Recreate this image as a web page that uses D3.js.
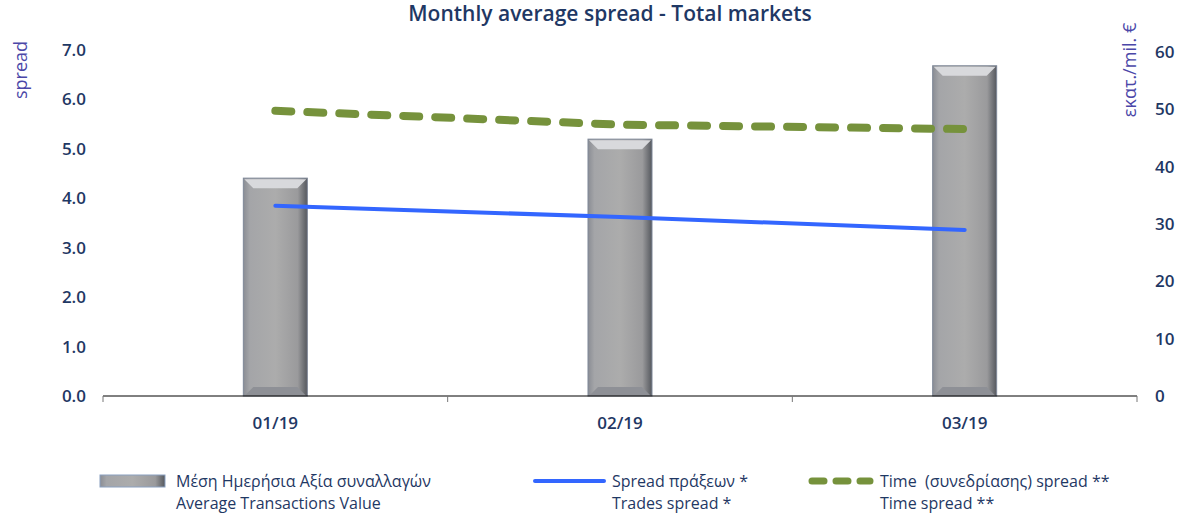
<!DOCTYPE html>
<html>
<head>
<meta charset="utf-8">
<script src="https://cdn.jsdelivr.net/npm/d3@7"></script>
<style>
  body { margin: 0; background: #fff; }
  text { font-family: "Open Sans", "Noto Sans", sans-serif; }
</style>
</head>
<body>
<div id="viz"></div>
<script>
const months = ["01/19", "02/19", "03/19"];
const avgValue = [38.0, 44.8, 57.6];       // right axis, εκατ. €
const tradesSpread = [3.85, 3.62, 3.36];  // left axis
const timeSpread = [5.77, 5.49, 5.40];    // left axis
const leftTicks = [0, 1, 2, 3, 4, 5, 6, 7];
const rightTicks = [0, 10, 20, 30, 40, 50, 60];

const width = 1181;
const height = 514;
const navy = "#1f3864";

const svg = d3.select("#viz").append("svg")
    .attr("width", width)
    .attr("height", height);

const x = d3.scaleBand().domain(months).range([103, 1137]);
const yLeft = d3.scaleLinear().domain([0, 7]).range([396, 50]);
const yRight = d3.scaleLinear().domain([0, 60]).range([396, 52]);

// bar gradient
const defs = svg.append("defs");
const grad = defs.append("linearGradient").attr("id", "barGrad");
grad.append("stop").attr("offset", "0%").attr("stop-color", "#8a8d94");
grad.append("stop").attr("offset", "10%").attr("stop-color", "#a4a5a8");
grad.append("stop").attr("offset", "50%").attr("stop-color", "#acacac");
grad.append("stop").attr("offset", "85%").attr("stop-color", "#9a9a9c");
grad.append("stop").attr("offset", "100%").attr("stop-color", "#55585e");

// title
svg.append("text")
    .attr("x", 610).attr("y", 21)
    .attr("text-anchor", "middle")
    .attr("font-size", "21px")
    .attr("font-weight", 600)
    .attr("fill", navy)
    .text("Monthly average spread - Total markets");

// bars
const barW = 64;
const bars = svg.selectAll("g.bar")
    .data(months.map((m, i) => ({ m, v: avgValue[i] })))
    .enter().append("g").attr("class", "bar");

bars.append("rect")
    .attr("x", d => x(d.m) + x.bandwidth() / 2 - barW / 2)
    .attr("y", d => yRight(d.v))
    .attr("width", barW)
    .attr("height", d => yRight(0) - yRight(d.v))
    .attr("fill", "url(#barGrad)")
    .attr("stroke", "#7f8898")
    .attr("stroke-width", 1);

// top bevel
bars.append("path")
    .attr("d", d => {
        const x0 = x(d.m) + x.bandwidth() / 2 - barW / 2;
        const y0 = yRight(d.v);
        return `M${x0 + 1},${y0 + 1} L${x0 + barW - 1},${y0 + 1} L${x0 + barW - 10},${y0 + 10} L${x0 + 10},${y0 + 10} Z`;
    })
    .attr("fill", "#d8d9dc");

// bottom bevel
bars.append("path")
    .attr("d", d => {
        const x0 = x(d.m) + x.bandwidth() / 2 - barW / 2;
        const y0 = yRight(0);
        return `M${x0 + 1},${y0} L${x0 + barW - 1},${y0} L${x0 + barW - 10},${y0 - 9} L${x0 + 10},${y0 - 9} Z`;
    })
    .attr("fill", "#8e9096");

// x axis
const xAxis = svg.append("g");
xAxis.append("line")
    .attr("x1", 103).attr("x2", 1137)
    .attr("y1", yLeft(0)).attr("y2", yLeft(0))
    .attr("stroke", "#000").attr("stroke-width", 1);
xAxis.selectAll("line.tick")
    .data([103, ...months.map(m => x(m) + x.bandwidth()).slice(0, 2), 1137])
    .enter().append("line")
    .attr("class", "tick")
    .attr("x1", d => d).attr("x2", d => d)
    .attr("y1", yLeft(0)).attr("y2", yLeft(0) + 6)
    .attr("stroke", "#777");
xAxis.selectAll("text")
    .data(months)
    .enter().append("text")
    .attr("x", d => x(d) + x.bandwidth() / 2)
    .attr("y", 429)
    .attr("text-anchor", "middle")
    .attr("font-size", "17px")
    .attr("font-weight", 600)
    .attr("fill", navy)
    .text(d => d);

// left axis labels
svg.selectAll("text.yl")
    .data(leftTicks)
    .enter().append("text")
    .attr("class", "yl")
    .attr("x", 86)
    .attr("y", d => yLeft(d) + 6)
    .attr("text-anchor", "end")
    .attr("font-size", "17px")
    .attr("font-weight", 600)
    .attr("fill", navy)
    .text(d => d3.format(".1f")(d));

// right axis labels
svg.selectAll("text.yr")
    .data(rightTicks)
    .enter().append("text")
    .attr("class", "yr")
    .attr("x", 1155)
    .attr("y", d => yRight(d) + 6)
    .attr("text-anchor", "start")
    .attr("font-size", "17px")
    .attr("font-weight", 600)
    .attr("fill", navy)
    .text(d => d);

// axis titles
svg.append("text")
    .attr("transform", "translate(27,70) rotate(-90)")
    .attr("text-anchor", "middle")
    .attr("font-size", "18px")
    .attr("fill", "#4b47a8")
    .text("spread");
svg.append("text")
    .attr("transform", "translate(1136,70) rotate(-90)")
    .attr("text-anchor", "middle")
    .attr("font-size", "18px")
    .attr("fill", "#4b47a8")
    .text("εκατ./mil. €");

// lines
const cx = m => x(m) + x.bandwidth() / 2;
const line = d3.line().x(d => cx(d[0])).y(d => yLeft(d[1]));

svg.append("path")
    .datum(months.map((m, i) => [m, timeSpread[i]]))
    .attr("d", line)
    .attr("fill", "none")
    .attr("stroke", "#76923c")
    .attr("stroke-width", 8)
    .attr("stroke-linecap", "round")
    .attr("stroke-dasharray", "16,16");

svg.append("path")
    .datum(months.map((m, i) => [m, tradesSpread[i]]))
    .attr("d", line)
    .attr("fill", "none")
    .attr("stroke", "#3366ff")
    .attr("stroke-width", 4)
    .attr("stroke-linecap", "round");

// legend
const legend = svg.append("g");
function legendText(x0, l1, l2) {
    const t = legend.append("text")
        .attr("x", x0).attr("y", 487)
        .attr("font-size", "16px")
        .attr("font-weight", 500)
        .attr("fill", navy)
        .style("white-space", "pre");
    t.append("tspan").text(l1);
    t.append("tspan").attr("x", x0).attr("dy", 22).text(l2);
    return t;
}

legend.append("rect")
    .attr("x", 100).attr("y", 475).attr("width", 65).attr("height", 12)
    .attr("fill", "url(#barGrad)").attr("stroke", "#8aa0c0");
legendText(176, "Μέση Ημερήσια Αξία συναλλαγών", "Average Transactions Value");

legend.append("line")
    .attr("x1", 535).attr("x2", 604).attr("y1", 481).attr("y2", 481)
    .attr("stroke", "#3366ff").attr("stroke-width", 4).attr("stroke-linecap", "round");
legendText(612, "Spread πράξεων *", "Trades spread *");

legend.append("line")
    .attr("x1", 812).attr("x2", 870).attr("y1", 481).attr("y2", 481)
    .attr("stroke", "#76923c").attr("stroke-width", 7).attr("stroke-linecap", "round")
    .attr("stroke-dasharray", "12,12");
legendText(880, "Time  (συνεδρίασης) spread **", "Time spread **");
</script>
</body>
</html>
